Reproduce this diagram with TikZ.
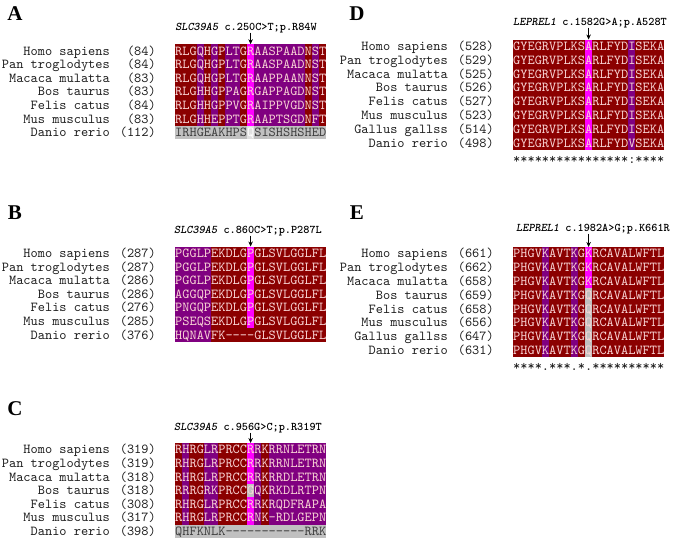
\documentclass[tikz,border=0pt]{standalone}
\usepackage{fontspec}
\usetikzlibrary{arrows.meta}
\newfontfamily\seqfont[Extension=.otf,Ligatures=TeXOff]{lmmono10-regular}
\newfontfamily\titlefont[Extension=.otf,Ligatures=TeXOff,ItalicFont=lmmonolt10-boldoblique]{lmmonolt10-bold}
\newfontfamily\panelfont{Liberation Serif}
\definecolor{conred}{RGB}{139,0,0}
\definecolor{varpurple}{RGB}{128,0,128}
\definecolor{mutpink}{RGB}{255,0,255}
\definecolor{diffgray}{RGB}{192,192,192}
\definecolor{gapgray}{RGB}{225,225,225}
\definecolor{lettertxt}{RGB}{250,214,214}
\definecolor{darktxt}{RGB}{60,60,60}
\definecolor{spgray}{RGB}{30,30,30}
\newcommand\colw{7.2}

\begin{document}
\begin{tikzpicture}[x=1pt,y=-1pt,
  panel/.style={font=\panelfont\bfseries\fontsize{21}{21}\selectfont,inner sep=0},
  title/.style={font=\titlefont\fontsize{11.7}{13}\selectfont,inner sep=0,anchor=base},
  species/.style={font=\seqfont\fontsize{13.7}{14}\selectfont,inner sep=0,anchor=base east,text=spgray},
  seqrow/.style={font=\seqfont\fontsize{13.7}{14}\selectfont,inner sep=0,anchor=base west,text=lettertxt},
  mutarrow/.style={-{Stealth[length=5pt,width=4.5pt]},line width=0.9pt},
  colr/.style={fill=conred},
  colp/.style={fill=varpurple},
  colm/.style={fill=mutpink},
  colg/.style={fill=diffgray}
]
\useasboundingbox (0,0) rectangle (675,557);
\fill[white] (0,0) rectangle (675,557);

% A
\node[panel] (labA) at (15,14) {A};
\node[title] (titA) at (246,30) {\textit{SLC39A5} c.250C>T;p.R84W};
\foreach \c [count=\i from 0] in {r,r,r,p,r,p,r,p,p,r,m,p,p,p,p,p,p,p,r,p,r}
  \fill[col\c] ({175+\i*\colw},44.2) rectangle ++(\colw,{6*13.6});
\fill[colg] (175,{44.2+6*13.6}) rectangle ++({21*\colw},13.6);
\fill[gapgray] ({175+10*\colw},{44.2+6*13.6}) rectangle ++(\colw,13.6);
\coordinate (mutA) at ({175+10.5*\colw},44.2);
\draw[mutarrow] (titA.south -| mutA) -- (mutA);
\foreach \sp/\n/\s [count=\i from 0] in {
  Homo sapiens/84/RLGQHGPLTGRAASPAADNST,
  Pan troglodytes/84/RLGQHGPLTGRAASPAADNST,
  Macaca mulatta/83/RLGQHGPLTGRAAPPAANNST,
  Bos taurus/83/RLGHHGPPAGRGAPPAGDNST,
  Felis catus/84/RLGHHGPPVGRAIPPVGDNST,
  Mus musculus/83/RLGHHEPPTGRAAPTSGDNFT}{
  \node[species] (spA\i) at (110,{55.1+\i*13.6}) {\sp};
  \node[species] (numA\i) at (156,{55.1+\i*13.6}) {(\n)};
  \node[seqrow] (seqA\i) at (175,{55.1+\i*13.6}) {\s};
}
\node[species] (spA6) at (110,136.7) {Danio rerio};
\node[species] (numA6) at (156,136.7) {(112)};
\node[seqrow,text=darktxt] (seqA6) at (175,136.7) {IRHGEAKHPS\textcolor{white}{Q}SISHSHSHED};

% B
\node[panel] (labB) at (15,213) {B};
\node[title] (titB) at (248,233) {\textit{SLC39A5} c.860C>T;p.P287L};
\foreach \c [count=\i from 0] in {p,p,p,p,p,r,r,r,r,r,m,r,r,r,r,r,r,r,r,r,r}
  \fill[col\c] ({175+\i*\colw},246.5) rectangle ++(\colw,{7*13.6});
\fill[colr] ({175+10*\colw},{246.5+6*13.6}) rectangle ++(\colw,13.6);
\coordinate (mutB) at ({175+10.5*\colw},246.5);
\draw[mutarrow] (titB.south -| mutB) -- (mutB);
\foreach \sp/\n/\s [count=\i from 0] in {
  Homo sapiens/287/PGGLPEKDLGPGLSVLGGLFL,
  Pan troglodytes/287/PGGLPEKDLGPGLSVLGGLFL,
  Macaca mulatta/286/PGGLPEKDLGPGLSVLGGLFL,
  Bos taurus/286/AGGQPEKDLGPGLSVLGGLFL,
  Felis catus/276/PNGQPEKDLGPGLSVLGGLFL,
  Mus musculus/285/PSEQSEKDLGPGLSVLGGLFL,
  Danio rerio/376/HQNAVFK----GLSVLGGLFL}{
  \node[species] (spB\i) at (110,{257.4+\i*13.6}) {\sp};
  \node[species] (numB\i) at (156,{257.4+\i*13.6}) {(\n)};
  \node[seqrow] (seqB\i) at (175,{257.4+\i*13.6}) {\s};
}

% C
\node[panel] (labC) at (15,409) {C};
\node[title] (titC) at (248,430) {\textit{SLC39A5} c.956G>C;p.R319T};
\foreach \c [count=\i from 0] in {r,p,r,r,p,p,r,r,r,r,m,p,r,p,p,p,p,p,p,p,p}
  \fill[col\c] ({175+\i*\colw},443) rectangle ++(\colw,{6*13.6});
\fill[colg] ({175+10*\colw},{443+3*13.6}) rectangle ++(\colw,13.6);
\fill[colg] (175,{443+6*13.6}) rectangle ++({21*\colw},13.6);
\coordinate (mutC) at ({175+10.5*\colw},443);
\draw[mutarrow] (titC.south -| mutC) -- (mutC);
\foreach \sp/\n/\s [count=\i from 0] in {
  Homo sapiens/319/RHRGLRPRCCRRKRRNLETRN,
  Pan troglodytes/319/RHRGLRPRCCRRKRRNLETRN,
  Macaca mulatta/318/RHRGLRPRCCRRKRRDLETRN,
  Bos taurus/318/RRRGRKPRCCGQKRKDLRTPN,
  Felis catus/308/RHRGLRPRCCRRKRQDFRAPA,
  Mus musculus/317/RHRGLRPRCCRNK-RDLGEPN}{
  \node[species] (spC\i) at (110,{453.9+\i*13.6}) {\sp};
  \node[species] (numC\i) at (156,{453.9+\i*13.6}) {(\n)};
  \node[seqrow] (seqC\i) at (175,{453.9+\i*13.6}) {\s};
}
\node[species] (spC6) at (110,535.5) {Danio rerio};
\node[species] (numC6) at (156,535.5) {(398)};
\node[seqrow,text=darktxt] (seqC6) at (175,535.5) {QHFKNLK-----------RRK};

% D
\node[panel] (labD) at (357,14) {D};
\node[title] (titD) at (590,25) {\textit{LEPREL1} c.1582G>A;p.A528T};
\foreach \c [count=\i from 0] in {r,r,r,r,r,r,r,r,r,r,m,r,r,r,r,r,p,r,r,r,r}
  \fill[col\c] ({513+\i*\colw},39.5) rectangle ++(\colw,{8*13.8});
\coordinate (mutD) at ({513+10.5*\colw},39.5);
\draw[mutarrow] (titD.south -| mutD) -- (mutD);
\foreach \sp/\n/\s [count=\i from 0] in {
  Homo sapiens/528/GYEGRVPLKSARLFYDISEKA,
  Pan troglodytes/529/GYEGRVPLKSARLFYDISEKA,
  Macaca mulatta/525/GYEGRVPLKSARLFYDISEKA,
  Bos taurus/526/GYEGRVPLKSARLFYDISEKA,
  Felis catus/527/GYEGRVPLKSARLFYDISEKA,
  Mus musculus/523/GYEGRVPLKSARLFYDISEKA,
  Gallus gallss/514/GYEGRVPLKSARLFYDISEKA,
  Danio rerio/498/GYEGRVPLKSARLFYDVSEKA}{
  \node[species] (spD\i) at (448,{50.4+\i*13.8}) {\sp};
  \node[species] (numD\i) at (494,{50.4+\i*13.8}) {(\n)};
  \node[seqrow] (seqD\i) at (513,{50.4+\i*13.8}) {\s};
}
\node[seqrow,text=spgray] (consD) at (513,163) {****************:****};

% E
\node[panel] (labE) at (357,213) {E};
\node[title] (titE) at (593,231) {\textit{LEPREL1} c.1982A>G;p.K661R};
\foreach \c [count=\i from 0] in {r,r,r,r,p,r,r,r,p,r,g,r,r,r,r,r,r,r,r,r,r}
  \fill[col\c] ({513+\i*\colw},247) rectangle ++(\colw,{8*13.8});
\fill[colm] ({513+10*\colw},247) rectangle ++(\colw,{3*13.8});
\coordinate (mutE) at ({513+10.5*\colw},247);
\draw[mutarrow] (titE.south -| mutE) -- (mutE);
\foreach \sp/\n/\s [count=\i from 0] in {
  Homo sapiens/661/PHGVKAVTKGKRCAVALWFTL,
  Pan troglodytes/662/PHGVKAVTKGKRCAVALWFTL,
  Macaca mulatta/658/PHGVKAVTKGKRCAVALWFTL,
  Bos taurus/659/PHGVKAVTKGQRCAVALWFTL,
  Felis catus/658/PHGVKAVTKGQRCAVALWFTL,
  Mus musculus/656/PHGVKAVTKGQRCAVALWFTL,
  Gallus gallss/647/PHGVKAVTKGQRCAVALWFTL,
  Danio rerio/631/PHGVKAVTKGQRCAVALWFTL}{
  \node[species] (spE\i) at (448,{257.9+\i*13.8}) {\sp};
  \node[species] (numE\i) at (494,{257.9+\i*13.8}) {(\n)};
  \node[seqrow] (seqE\i) at (513,{257.9+\i*13.8}) {\s};
}
\node[seqrow,text=spgray] (consE) at (513,370) {****.***.*.**********};
\end{tikzpicture}
\end{document}
